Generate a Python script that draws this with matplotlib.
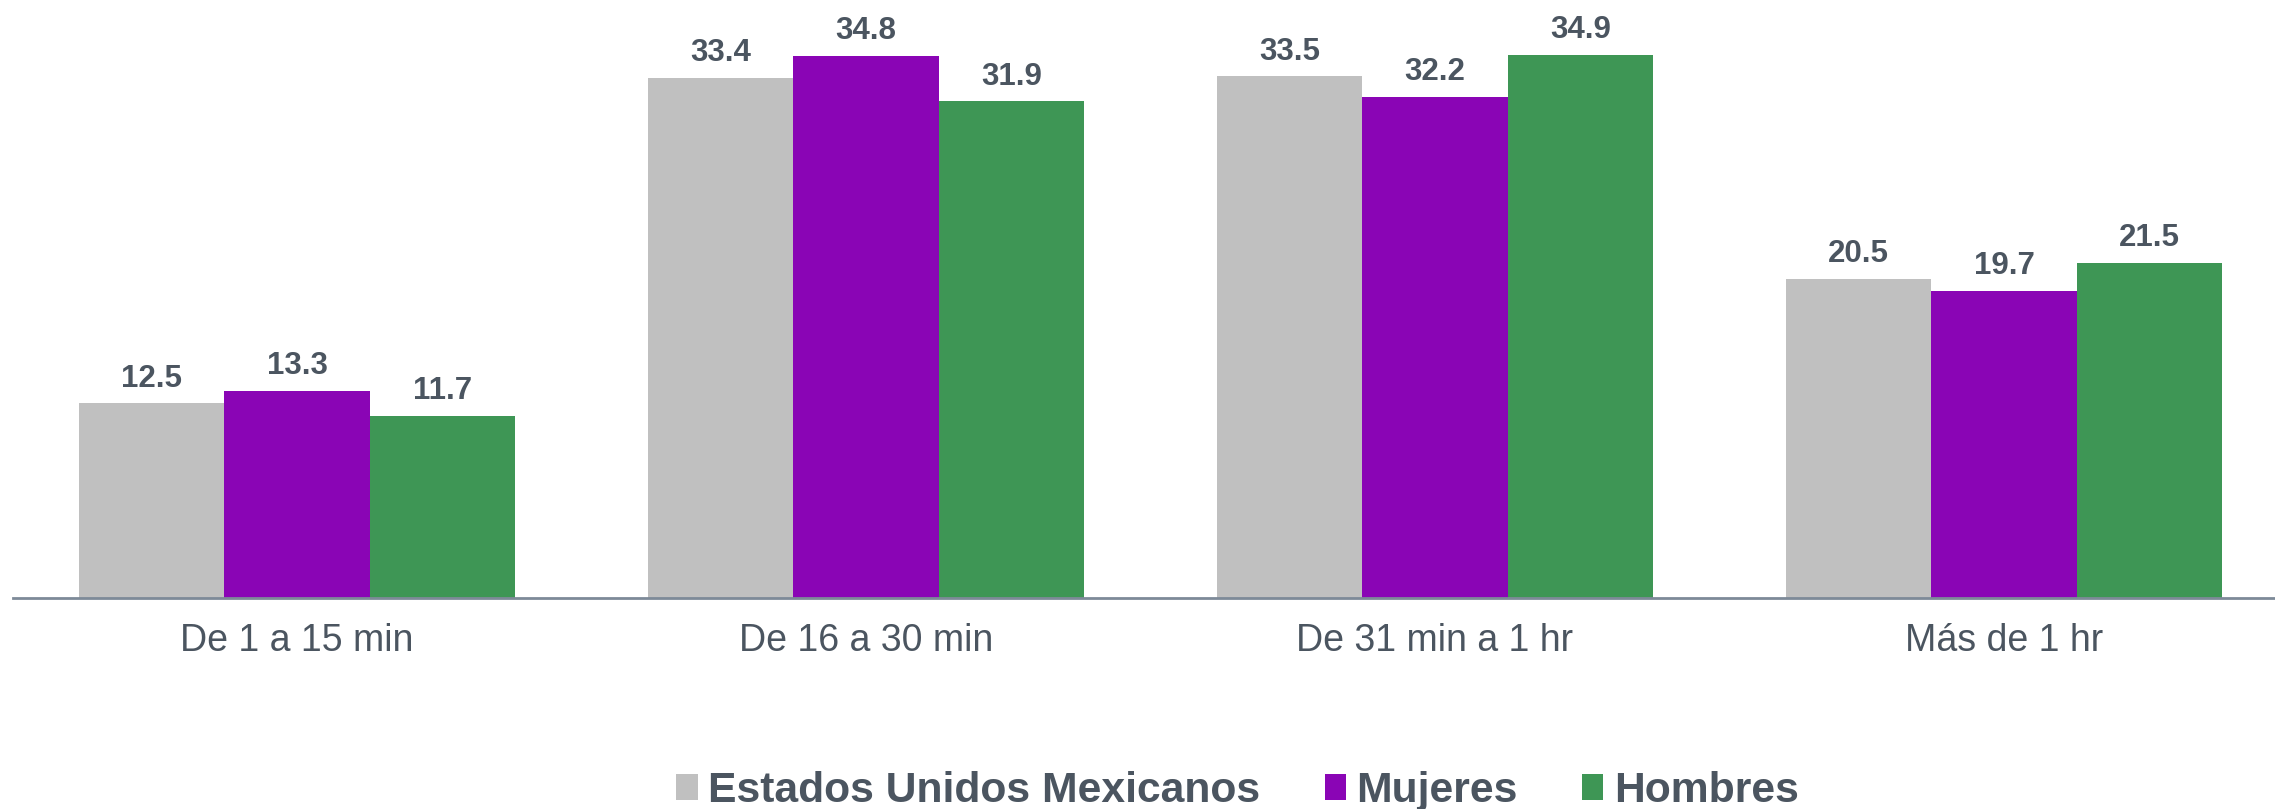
from __future__ import annotations

import matplotlib

matplotlib.use("Agg")
import matplotlib.pyplot as plt
import numpy as np


CATEGORIES = ["De 1 a 15 min", "De 16 a 30 min", "De 31 min a 1 hr", "Más de 1 hr"]
SERIES_NAMES = ["Estados Unidos Mexicanos", "Mujeres", "Hombres"]
NACIONAL = [12.5, 33.4, 33.5, 20.5]
MUJERES = [13.3, 34.8, 32.2, 19.7]
HOMBRES = [11.7, 31.9, 34.9, 21.5]

COLORS = ["#C0C0C0", "#8A05B5", "#3E9655"]
TEXT_COLOR = "#4B5560"
AXIS_COLOR = "#7D8A98"


def plot_commute_chart(output_path: str) -> None:
    plt.rcParams["font.family"] = ["Liberation Sans", "DejaVu Sans"]

    fig = plt.figure(figsize=(22.75, 8.09), dpi=100)
    # axes run slightly past the right edge, as in the original
    ax = fig.add_axes([12.5 / 2275, 1 - 598 / 809, 2276 / 2275, 598 / 809])

    x = np.arange(len(CATEGORIES))
    width = 0.256
    series = [NACIONAL, MUJERES, HOMBRES]
    for i, (name, values, color) in enumerate(zip(SERIES_NAMES, series, COLORS)):
        bars = ax.bar(x + (i - 1) * width, values, width, color=color, label=name)
        for bar, value in zip(bars, values):
            ax.annotate(
                f"{value:.1f}",
                (bar.get_x() + bar.get_width() / 2, bar.get_height()),
                xytext=(0, 7),
                textcoords="offset points",
                ha="center",
                va="bottom",
                fontsize=22.5,
                fontweight="bold",
                color=TEXT_COLOR,
            )

    ax.set_xlim(-0.5, len(CATEGORIES) - 0.5)
    ax.set_ylim(0, 38.4)
    ax.set_xticks(x)
    ax.set_xticklabels(CATEGORIES, fontsize=27, color=TEXT_COLOR)
    ax.tick_params(axis="x", length=0, pad=18)
    ax.set_yticks([])
    for side in ("top", "right", "left"):
        ax.spines[side].set_visible(False)
    ax.spines["bottom"].set_color(AXIS_COLOR)
    ax.spines["bottom"].set_linewidth(2)

    legend = fig.legend(
        loc="center",
        bbox_to_anchor=(0.544, 0.022),
        ncol=3,
        frameon=False,
        handlelength=0.5,
        handleheight=0.55,
        handletextpad=0.25,
        columnspacing=1.5,
        prop={"size": 30.7, "weight": "bold"},
    )
    for text in legend.get_texts():
        text.set_color(TEXT_COLOR)

    fig.savefig(output_path, dpi=100)
    plt.close(fig)


if __name__ == "__main__":
    plot_commute_chart("out.png")
